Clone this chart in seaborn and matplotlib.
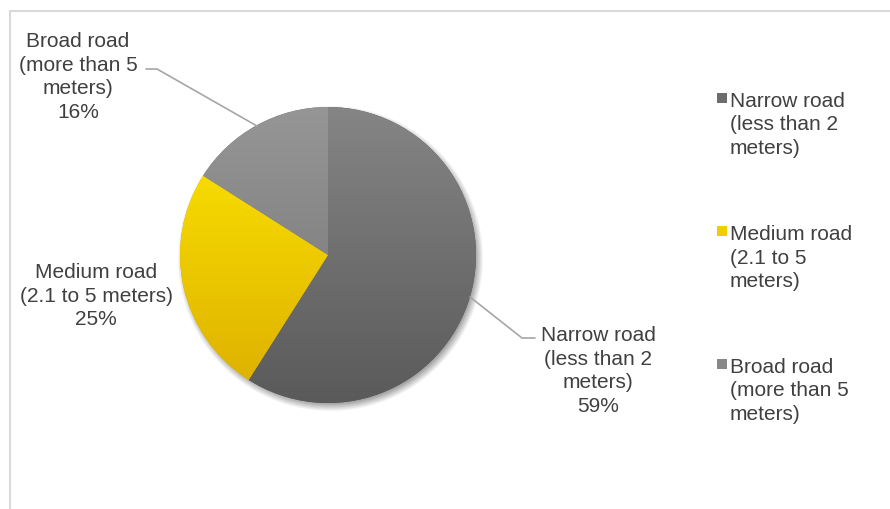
import numpy as np
import matplotlib
matplotlib.use("Agg")
import matplotlib.pyplot as plt
import seaborn as sns
from matplotlib.patches import Rectangle
from matplotlib.lines import Line2D
from matplotlib.colors import to_rgb

# ---- data ----
categories = ["Narrow road\n(less than 2\nmeters)",
              "Medium road\n(2.1 to 5\nmeters)",
              "Broad road\n(more than 5\nmeters)"]
label_texts = ["Narrow road\n(less than 2\nmeters)",
               "Medium road\n(2.1 to 5 meters)",
               "Broad road\n(more than 5\nmeters)"]
shares = [59, 25, 16]
top_colors = ["#858585", "#ffe800", "#969696"]
bottom_colors = ["#5a5a5a", "#dcae00", "#727272"]

sns.set_theme(style="white")
plt.rcParams['font.family'] = ['Liberation Sans', 'DejaVu Sans']
TXT = "#404040"
FS = 15.0
LS = 1.3

W, H = 890, 510
fig = plt.figure(figsize=(W / 100, H / 100), dpi=100)
ax = fig.add_axes([0, 0, 1, 1])
ax.set_xlim(0, W)
ax.set_ylim(0, H)
ax.set_aspect("equal")
ax.axis("off")

cx, cy, r = 328, H - 256, 148

# soft shadow
yy, xx = np.mgrid[0:H, 0:W]
d = np.hypot(xx - (cx + 2), (H - yy) - (cy - 3))
sh = np.clip((r + 5 - d) / 8.0, 0, 1) * 0.35
shadow = np.zeros((H, W, 4))
shadow[..., 3] = sh
ax.imshow(shadow, extent=(0, W, 0, H), origin="upper", zorder=0.5, interpolation="bilinear")

wedges, _ = ax.pie(shares, startangle=90, counterclock=False, center=(cx, cy), radius=r,
                   colors=bottom_colors, wedgeprops=dict(linewidth=0))
ax.set_xlim(0, W)
ax.set_ylim(0, H)
ax.set_aspect("equal")

n = 256
for w, tc, bc in zip(wedges, top_colors, bottom_colors):
    t = np.linspace(0, 1, n)[:, None]
    grad = (1 - t) * np.array(to_rgb(tc)) + t * np.array(to_rgb(bc))
    img = grad[:, None, :]
    im = ax.imshow(img, extent=(cx - r, cx + r, cy - r, cy + r), origin="upper",
                   aspect="auto", zorder=2, interpolation="bilinear")
    im.set_clip_path(w)
ax.set_xlim(0, W)
ax.set_ylim(0, H)

# frame
lc = "#d9d9d9"
fig.add_artist(Line2D([10 / W, 1], [1 - 11.5 / H, 1 - 11.5 / H], color=lc, lw=1.5, transform=fig.transFigure))
fig.add_artist(Line2D([10 / W, 10 / W], [0, 1 - 11.5 / H], color=lc, lw=1.5, transform=fig.transFigure))

# data labels
label_pos = [(78, 77), (96, 296), (598, 371)]
label_order = [2, 1, 0]
for i, (px, py) in zip(label_order, label_pos):
    ax.text(px, H - py, f"{label_texts[i]}\n{shares[i]}%", ha="center", va="center", fontsize=FS,
            color=TXT, linespacing=LS, zorder=5)

# leader lines
llc = "#a6a6a6"
ax.plot([470, 522, 535], [H - 298, H - 339, H - 339], color=llc, lw=1.2, zorder=4)
ax.plot([257, 157, 146], [H - 127, H - 70, H - 70], color=llc, lw=1.2, zorder=4)

# legend
leg_marker = ["#6c6c6c", "#f0cc00", "#888888"]
leg_y = [99, 232, 365]
for lab, mc, y in zip(categories, leg_marker, leg_y):
    ax.add_patch(Rectangle((717, H - y - 5), 10, 10, facecolor=mc, edgecolor="none", zorder=5))
    ax.text(730, H - y + 7, lab, ha="left", va="top", fontsize=FS, color=TXT,
            linespacing=LS, zorder=5)

fig.savefig("out.png", dpi=100)
